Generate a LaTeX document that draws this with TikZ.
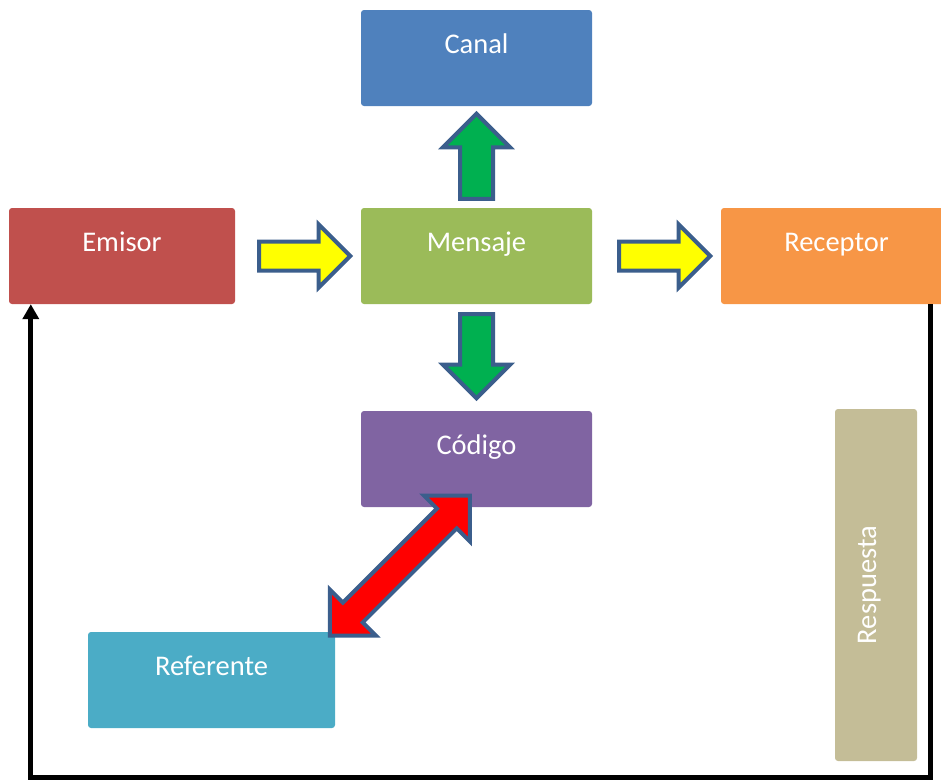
\documentclass[tikz,border=0pt]{standalone}
\usepackage{fontspec}
\setmainfont{Carlito}
\usetikzlibrary{arrows.meta,shapes.arrows,calc}

\definecolor{canalc}{HTML}{4F81BD}
\definecolor{emisorc}{HTML}{C0504D}
\definecolor{mensajec}{HTML}{9BBB59}
\definecolor{receptorc}{HTML}{F79646}
\definecolor{codigoc}{HTML}{8064A2}
\definecolor{referentec}{HTML}{4BACC6}
\definecolor{respuestac}{HTML}{C4BD97}
\definecolor{flechaedge}{HTML}{3B5E8C}
\definecolor{flechayellow}{HTML}{FFFF00}
\definecolor{flechagreen}{HTML}{00B050}
\definecolor{flechared}{HTML}{FF0000}

\begin{document}
\begin{tikzpicture}[x=1pt,y=-1pt]

\tikzstyle{box} = [rectangle, rounded corners=3pt, text=white, inner sep=0pt, font=\fontsize{28.5}{34}\selectfont, minimum width=231pt, minimum height=96pt, text height=20pt, text depth=29.6pt]
\tikzstyle{flecha} = [single arrow, draw=flechaedge, line width=4pt, inner xsep=0pt, single arrow head extend=17pt, anchor=tail]
\tikzstyle{doble} = [double arrow, draw=flechaedge, line width=4pt, inner xsep=0pt, double arrow head extend=18.5pt]
\tikzstyle{retorno} = [line width=5pt, -{Triangle[width=16pt,length=15pt]}]

\useasboundingbox (0,0) rectangle (941,780);

% cajas
\node[box, fill=canalc] (canal) at (476.5, 58) {Canal};
\node[box, fill=emisorc, minimum width=226pt] (emisor) at (122, 256) {Emisor};
\node[box, fill=mensajec] (mensaje) at (476.5, 256) {Mensaje};
\node[box, fill=receptorc] (receptor) at (836.5, 256) {Receptor};
\node[box, fill=codigoc] (codigo) at (476.5, 459) {Código};
\node[box, fill=referentec, minimum width=247pt] (referente) at (211.5, 680) {Referente};
\node[box, fill=respuestac, minimum width=352pt, minimum height=82pt, text depth=20pt, rotate=90] (respuesta) at (876, 585) {Respuesta};

% flechas
\node[flecha, fill=flechayellow, minimum height=91pt, inner ysep=12.5pt] (emimen) at ($(emisor.east)+(22,0)$) {};
\node[flecha, fill=flechayellow, minimum height=91pt, inner ysep=12.5pt] (menrec) at ($(mensaje.east)+(25,0)$) {};
\node[flecha, fill=flechagreen, minimum height=85pt, inner ysep=14.5pt, rotate=90] (mencan) at ($(mensaje.north)+(0,-7)$) {};
\node[flecha, fill=flechagreen, minimum height=84pt, inner ysep=14.5pt, rotate=-90] (mencod) at ($(mensaje.south)+(0,8)$) {};
\node[doble, fill=flechared, minimum height=198pt, inner ysep=12pt, rotate=45] (codref) at ($(codigo.south)!0.5!(referente.north east)+(-6,-4)$) {};

% respuesta
\draw[retorno] ($(receptor.south east)+(-22,0)$) -- ++(0,473) -| ($(emisor.south west)+(22,0)$);

\end{tikzpicture}
\end{document}
